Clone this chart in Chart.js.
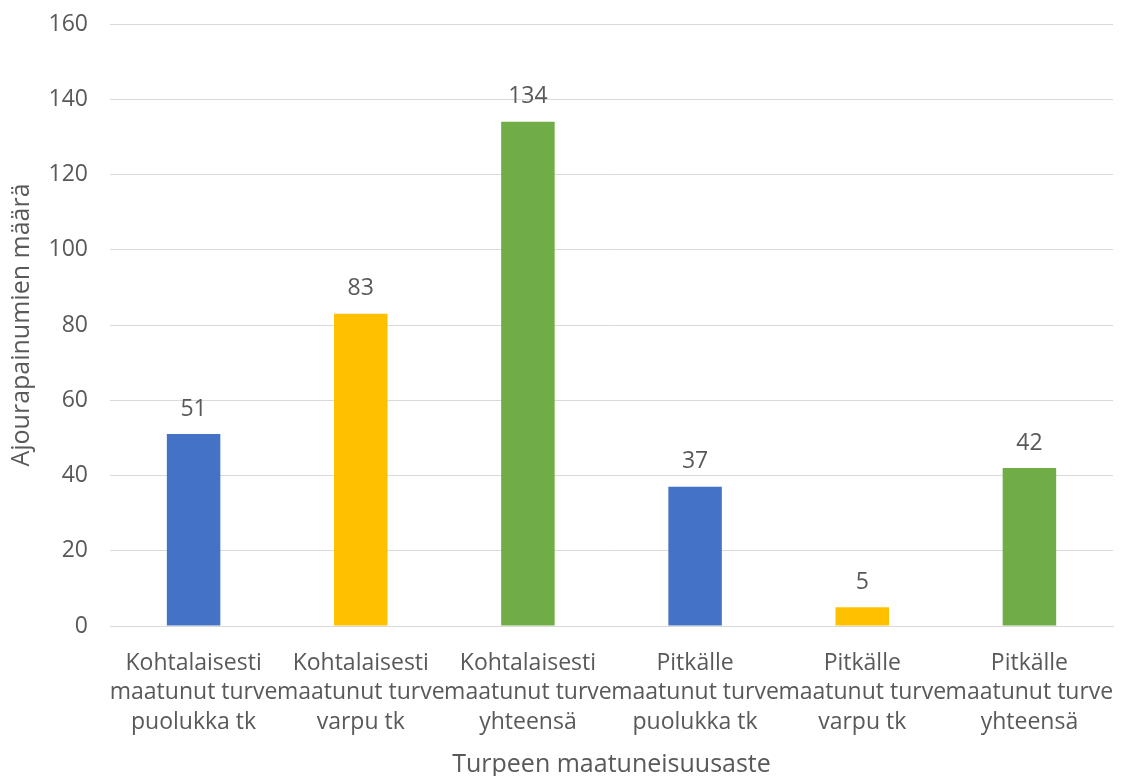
<!DOCTYPE html>
<html>
<head>
<meta charset="utf-8">
<script src="https://cdn.jsdelivr.net/npm/chart.js@4"></script>
<style>
  html, body { margin: 0; padding: 0; background: #fff; overflow: hidden; }
  #wrap { width: 1124px; height: 790px; }
</style>
</head>
<body>
<div id="wrap"><canvas id="myChart"></canvas></div>
<script>
const categories = [
  ["Kohtalaisesti", "maatunut turve", "puolukka tk"],
  ["Kohtalaisesti", "maatunut turve", "varpu tk"],
  ["Kohtalaisesti", "maatunut turve", "yhteensä"],
  ["Pitkälle", "maatunut turve", "puolukka tk"],
  ["Pitkälle", "maatunut turve", "varpu tk"],
  ["Pitkälle", "maatunut turve", "yhteensä"],
];
const values = [51, 83, 134, 37, 5, 42];
const barColors = ["#4472C4", "#FFC000", "#70AD47", "#4472C4", "#FFC000", "#70AD47"];
const yTicks = [0, 20, 40, 60, 80, 100, 120, 140, 160];

const textColor = "#595959";
const fontFamily = "'Open Sans', 'Noto Sans', sans-serif";
const fontSize = 23;
const titleSize = 25;

// labels above bars
const valueLabels = {
  id: "valueLabels",
  afterDatasetsDraw(chart) {
    const ctx = chart.ctx;
    const meta = chart.getDatasetMeta(0);
    ctx.save();
    ctx.fillStyle = textColor;
    ctx.font = fontSize + "px " + fontFamily;
    ctx.textAlign = "center";
    ctx.textBaseline = "middle";
    meta.data.forEach((bar, i) => {
      ctx.fillText(String(values[i]), bar.x, bar.y - 25);
    });
    ctx.restore();
  },
};

// no extra padding from the tick labels
function noScalePadding(scale) {
  scale.paddingLeft = 0;
  scale.paddingRight = 0;
  scale.paddingTop = 0;
  scale.paddingBottom = 0;
}

const ctx = document.getElementById("myChart").getContext("2d");
new Chart(ctx, {
  type: "bar",
  data: {
    labels: categories,
    datasets: [
      {
        data: values,
        backgroundColor: barColors,
        barPercentage: 0.32,
        categoryPercentage: 1,
      },
    ],
  },
  options: {
    responsive: true,
    maintainAspectRatio: false,
    animation: false,
    devicePixelRatio: 1,
    layout: { autoPadding: false, padding: { top: 24, right: 11, left: 0, bottom: 0 } },
    plugins: {
      legend: { display: false },
      tooltip: { enabled: false },
    },
    scales: {
      x: {
        grid: { display: false, drawTicks: false },
        border: { color: "#D9D9D9", width: 1 },
        ticks: {
          color: textColor,
          font: { family: fontFamily, size: fontSize, lineHeight: 1.27 },
          padding: 23,
          maxRotation: 0,
          autoSkip: false,
        },
        title: {
          display: true,
          text: "Turpeen maatuneisuusaste",
          color: textColor,
          font: { family: fontFamily, size: titleSize },
          padding: { top: 8, bottom: 10 },
        },
        afterFit: (scale) => {
          scale.height = 790 - 626;
          noScalePadding(scale);
        },
      },
      y: {
        min: 0,
        max: 160,
        afterBuildTicks: (scale) => {
          scale.ticks = yTicks.map((v) => ({ value: v }));
        },
        grid: { color: "#D9D9D9", drawTicks: false },
        border: { display: false },
        ticks: {
          color: textColor,
          font: { family: fontFamily, size: fontSize },
          padding: 22,
        },
        title: {
          display: true,
          text: "Ajourapainumien määrä",
          color: textColor,
          font: { family: fontFamily, size: titleSize },
          padding: { top: 7, bottom: 0 },
        },
        afterFit: (scale) => {
          scale.width = 110;
          noScalePadding(scale);
        },
      },
    },
  },
  plugins: [valueLabels],
});
</script>
</body>
</html>
